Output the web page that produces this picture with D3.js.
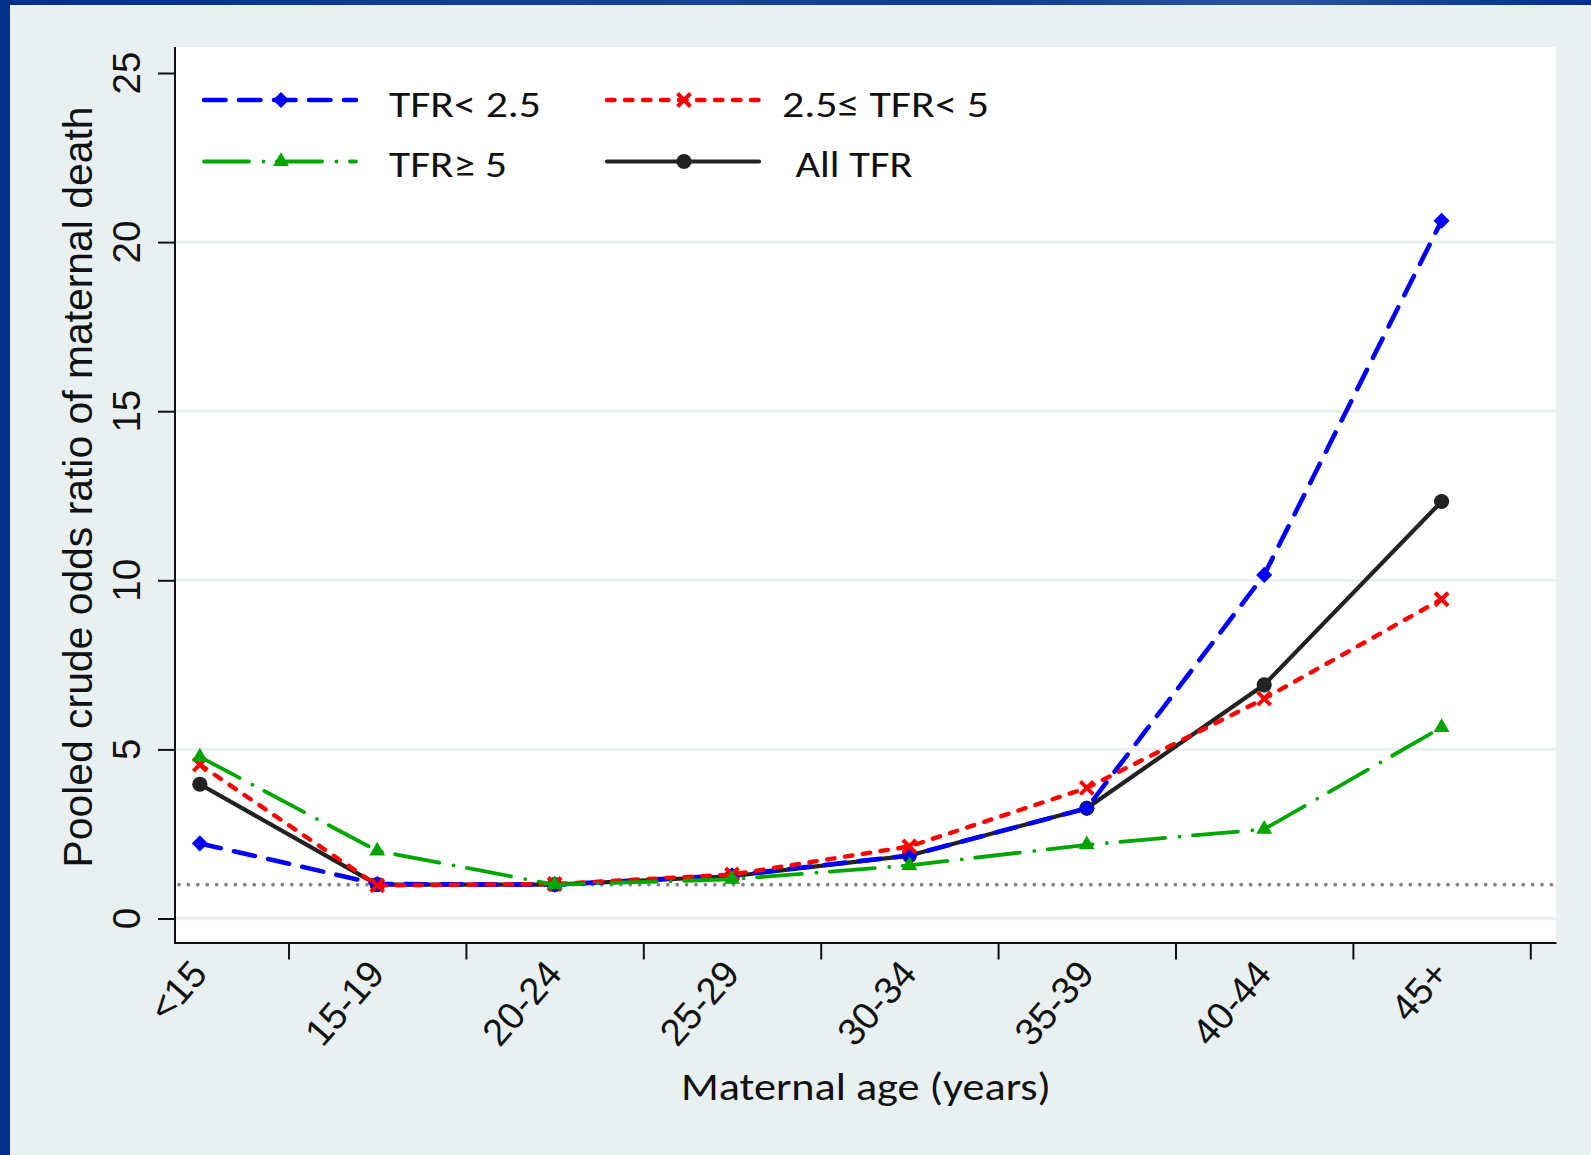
<!DOCTYPE html>
<html>
<head>
<meta charset="utf-8">
<script src="https://cdn.jsdelivr.net/npm/d3@7"></script>
<style>
  html, body { margin: 0; padding: 0; background: #e8f0f2; }
  svg { display: block; }
</style>
</head>
<body>
<svg id="chart" width="1591" height="1155"></svg>
<script>
// ---------------- data ----------------
const categories = ["<15", "15-19", "20-24", "25-29", "30-34", "35-39", "40-44", "45+"];
const tfrLow  = [2.22, 1.02, 1.00, 1.28, 1.86, 3.26, 10.16, 20.63];   // TFR< 2.5
const tfrMid  = [4.55, 0.98, 1.02, 1.30, 2.13, 3.86, 6.50, 9.44];     // 2.5<= TFR< 5
const tfrHigh = [4.78, 2.00, 1.00, 1.16, 1.57, 2.18, 2.64, 5.65];     // TFR>= 5
const tfrAll  = [3.97, 1.00, 1.00, 1.25, 1.86, 3.26, 6.91, 12.33];    // All TFR
const yTickValues = [0, 5, 10, 15, 20, 25];
const gridValues = [0, 5, 10, 15, 20];
const referenceValue = 1;
const legendLabels = ["TFR< 2.5", "2.5\u2264 TFR< 5", "TFR\u2265 5", "All TFR"];
const yTitle = "Pooled crude odds ratio of maternal death";
const xTitle = "Maternal age (years)";

// ---------------- layout ----------------
const W = 1591, H = 1155;
const plot = { left: 175, right: 1556, top: 47, bottom: 943 };
const svg = d3.select("#chart");

// background + frame
svg.append("rect").attr("x", 0).attr("y", 0).attr("width", W).attr("height", H).attr("fill", "#00308a");
const grad = svg.append("defs").append("linearGradient").attr("id", "topg").attr("x1", 0).attr("x2", 1).attr("y1", 0).attr("y2", 0);
grad.append("stop").attr("offset", "0").attr("stop-color", "#00308a");
grad.append("stop").attr("offset", "0.45").attr("stop-color", "#1a4596");
grad.append("stop").attr("offset", "0.6").attr("stop-color", "#0d3a8f");
grad.append("stop").attr("offset", "0.8").attr("stop-color", "#2a55a0");
grad.append("stop").attr("offset", "1").attr("stop-color", "#00308a");
svg.append("rect").attr("x", 0).attr("y", 0).attr("width", W).attr("height", 5).attr("fill", "url(#topg)");
svg.append("rect").attr("x", 10).attr("y", 5).attr("width", W - 10).attr("height", H - 5).attr("fill", "#e8f0f2");
svg.append("rect").attr("x", plot.left).attr("y", plot.top)
   .attr("width", plot.right - plot.left).attr("height", plot.bottom - plot.top).attr("fill", "#ffffff");

// ---------------- scales ----------------
const idx = categories.map((c, i) => i + 1);
const x = d3.scaleLinear().domain([0.86, 8.645]).range([plot.left, plot.right]);
const y = d3.scaleLinear().domain([0, 25]).range([918.5, 73]);

// gridlines
svg.append("g").selectAll("line").data(gridValues).join("line")
  .attr("x1", plot.left).attr("x2", plot.right)
  .attr("y1", d => y(d)).attr("y2", d => y(d))
  .attr("stroke", "#e8f0f2").attr("stroke-width", 3.3);

// reference dotted line at 1
svg.append("line")
  .attr("x1", plot.left + 4).attr("x2", plot.right - 2)
  .attr("y1", y(referenceValue)).attr("y2", y(referenceValue))
  .attr("stroke", "#858585").attr("stroke-width", 3.8)
  .attr("stroke-linecap", "round").attr("stroke-dasharray", "0 9.4");

// ---------------- axes ----------------
const yAxis = d3.axisLeft(y).tickValues(yTickValues).tickSize(17).tickSizeOuter(0).tickFormat("");
const gy = svg.append("g").attr("transform", `translate(${plot.left},0)`).call(yAxis);
gy.select(".domain").remove();
gy.selectAll(".tick line").attr("stroke", "#111").attr("stroke-width", 2);
svg.append("line").attr("x1", plot.left).attr("x2", plot.left)
  .attr("y1", plot.top).attr("y2", plot.bottom + 1)
  .attr("stroke", "#111").attr("stroke-width", 2);

svg.append("g").selectAll("text").data(yTickValues).join("text")
  .attr("transform", d => `translate(139.5,${y(d)}) rotate(-90)`)
  .attr("text-anchor", "middle")
  .attr("font-family", "'Liberation Sans', Arial, sans-serif")
  .attr("font-size", 38.5).attr("fill", "#111")
  .text(d => d);

const xAxis = d3.axisBottom(x).tickValues(idx.map(i => i + 0.5)).tickSize(17).tickSizeOuter(0).tickFormat("");
const gx = svg.append("g").attr("transform", `translate(0,${plot.bottom - 0.5})`).call(xAxis);
gx.select(".domain").attr("stroke", "#111").attr("stroke-width", 2);
gx.selectAll(".tick line").attr("stroke", "#111").attr("stroke-width", 2);

svg.append("g").selectAll("text").data(categories).join("text")
  .attr("transform", (d, i) => `translate(${x(i + 1) + 9},975) rotate(-49)`)
  .attr("text-anchor", "end")
  .attr("font-family", "'Liberation Sans', Arial, sans-serif")
  .attr("font-size", 38).attr("fill", "#111")
  .text(d => d);

// axis titles
svg.append("text")
  .attr("transform", "translate(91.5,487) rotate(-90)")
  .attr("text-anchor", "middle")
  .attr("font-family", "'Liberation Sans', Arial, sans-serif")
  .attr("font-size", 41).attr("fill", "#111")
  .attr("textLength", 761).attr("lengthAdjust", "spacingAndGlyphs")
  .text(yTitle);

svg.append("text")
  .attr("x", 866).attr("y", 1100)
  .attr("text-anchor", "middle")
  .attr("font-family", "Carlito, Calibri, Lato, sans-serif")
  .attr("font-size", 39.5).attr("fill", "#111")
  .attr("textLength", 370).attr("lengthAdjust", "spacingAndGlyphs")
  .text(xTitle);

// ---------------- series ----------------
const diamond = d3.symbol().type(d3.symbolSquare).size(130);
const triangle = d3.symbol().type(d3.symbolTriangle).size(110);
const xMark = "M-6.5,-6.5L6.5,6.5M-6.5,6.5L6.5,-6.5";

const series = [
  { key: "all",  values: tfrAll,  color: "#222222", width: 4.2, dash: null, marker: "circle" },
  { key: "low",  values: tfrLow,  color: "#0000ff", width: 4.6, dash: "21.5 13.5", marker: "diamond" },
  { key: "mid",  values: tfrMid,  color: "#ff0000", width: 4.4, dash: "7.5 10.5", marker: "x" },
  { key: "high", values: tfrHigh, color: "#00a600", width: 3.8, dash: "45 14.5 0 13.5", marker: "triangle" }
];

function drawMarker(g, type, cx, cy, color) {
  if (type === "circle") {
    g.append("circle").attr("cx", cx).attr("cy", cy).attr("r", 7.6).attr("fill", color);
  } else if (type === "diamond") {
    g.append("path").attr("d", diamond()).attr("transform", `translate(${cx},${cy}) rotate(45)`).attr("fill", color);
  } else if (type === "triangle") {
    g.append("path").attr("d", triangle()).attr("transform", `translate(${cx},${cy})`).attr("fill", color);
  } else {
    g.append("path").attr("d", xMark).attr("transform", `translate(${cx},${cy})`)
      .attr("stroke", color).attr("stroke-width", 4).attr("fill", "none");
  }
}

const line = d3.line().x((d, i) => x(i + 1)).y(d => y(d));
series.forEach(s => {
  const g = svg.append("g");
  g.append("path").datum(s.values).attr("d", line)
    .attr("fill", "none").attr("stroke", s.color).attr("stroke-width", s.width)
    .attr("stroke-linecap", "round").attr("stroke-linejoin", "round")
    .attr("stroke-dasharray", s.dash);
  s.values.forEach((v, i) => drawMarker(g, s.marker, x(i + 1), y(v), s.color));
});

// ---------------- legend ----------------
const legendItems = [
  { label: legendLabels[0], s: series[1], lx: 204, ly: 100, tx: 389, ty: 116.7, tl: 152 },
  { label: legendLabels[1], s: series[2], lx: 607, ly: 100, tx: 782, ty: 116.7, tl: 207 },
  { label: legendLabels[2], s: series[3], lx: 204, ly: 161.5, tx: 389, ty: 176.7, tl: 118 },
  { label: legendLabels[3], s: series[0], lx: 607, ly: 161.5, tx: 795.5, ty: 176.7, tl: 117 }
];
const lg = svg.append("g");
legendItems.forEach(it => {
  lg.append("line").attr("x1", it.lx).attr("x2", it.lx + 152)
    .attr("y1", it.ly).attr("y2", it.ly)
    .attr("stroke", it.s.color).attr("stroke-width", it.s.width)
    .attr("stroke-linecap", "round").attr("stroke-dasharray", it.s.dash);
  drawMarker(lg, it.s.marker, it.lx + 77, it.ly, it.s.color);
  lg.append("text").attr("x", it.tx).attr("y", it.ty)
    .attr("font-family", "Carlito, Calibri, Lato, sans-serif")
    .attr("font-size", 37.3).attr("fill", "#111")
    .attr("textLength", it.tl).attr("lengthAdjust", "spacingAndGlyphs")
    .text(it.label);
});
</script>
</body>
</html>
